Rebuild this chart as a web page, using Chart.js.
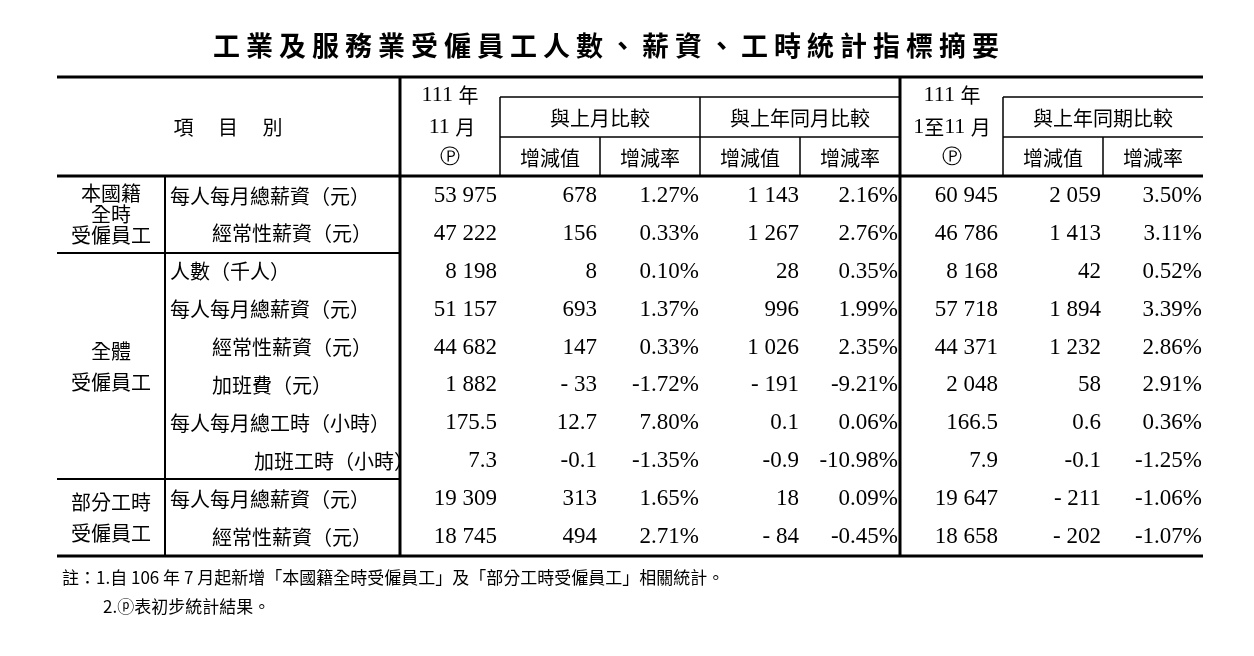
<!DOCTYPE html>
<html><head><meta charset="utf-8">
<script src="https://cdn.jsdelivr.net/npm/chart.js@4"></script>
<style>html,body{margin:0;padding:0;background:#fff}#c{display:block}</style>
</head><body>
<div style="width:1254px;height:656px"><canvas id="c"></canvas></div>
<script>
const title = "工業及服務業受僱員工人數、薪資、工時統計指標摘要";
const groups = [["本國籍","全時","受僱員工"],["全體","受僱員工"],["部分工時","受僱員工"]];
const groupRows = [2, 6, 2];
const items = ["每人每月總薪資（元）","經常性薪資（元）","人數（千人）","每人每月總薪資（元）","經常性薪資（元）","加班費（元）","每人每月總工時（小時）","加班工時（小時）","每人每月總薪資（元）","經常性薪資（元）"];
const itemIndent = [0,1,0,0,1,1,0,2,0,1];
const colMonth = ["53 975","47 222","8 198","51 157","44 682","1 882","175.5","7.3","19 309","18 745"];
const colMomVal = ["678","156","8","693","147","- 33","12.7","-0.1","313","494"];
const colMomRate = ["1.27%","0.33%","0.10%","1.37%","0.33%","-1.72%","7.80%","-1.35%","1.65%","2.71%"];
const colYoyVal = ["1 143","1 267","28","996","1 026","- 191","0.1","-0.9","18","- 84"];
const colYoyRate = ["2.16%","2.76%","0.35%","1.99%","2.35%","-9.21%","0.06%","-10.98%","0.09%","-0.45%"];
const colCum = ["60 945","46 786","8 168","57 718","44 371","2 048","166.5","7.9","19 647","18 658"];
const colCumVal = ["2 059","1 413","42","1 894","1 232","58","0.6","-0.1","- 211","- 202"];
const colCumRate = ["3.50%","3.11%","0.52%","3.39%","2.86%","2.91%","0.36%","-1.25%","-1.06%","-1.07%"];
const notes = ["註：1.自 106 年 7 月起新增「本國籍全時受僱員工」及「部分工時受僱員工」相關統計。","2.ⓟ表初步統計結果。"];

const CJK = '"Noto Sans CJK TC"', SER = '"Liberation Serif"';
const tablePlugin = {
  id:'tbl',
  afterDraw(chart){
    const c = chart.ctx; c.save();
    c.fillStyle='#000'; c.strokeStyle='#000';
    c.textBaseline='middle';
    c.font='bold 27px '+CJK; c.textAlign='center';
    c.letterSpacing='6px';
    c.fillText(title,609,46);
    c.letterSpacing='0px';
    const L=57,R=1203,T=77,H=176,B=556;
    const line=(x1,y1,x2,y2,w)=>{c.lineWidth=w;c.beginPath();c.moveTo(x1,y1);c.lineTo(x2,y2);c.stroke();};
    line(L,T,R,T,3); line(L,H,R,H,3); line(L,B,R,B,3);
    line(400,T,400,B,3); line(900,T,900,B,3);
    line(165,H,165,B,2);
    line(500,97,900,97,1.5); line(1003,97,R,97,1.5);
    line(500,137,900,137,1.5); line(1003,137,R,137,1.5);
    line(500,97,500,H,1.5); line(700,97,700,H,1.5); line(1003,97,1003,H,1.5);
    line(600,137,600,H,1.5); line(800,137,800,H,1.5); line(1103,137,1103,H,1.5);
    line(L,253,400,253,2); line(L,479,400,479,2);
    c.font='20px '+CJK;
    c.fillText('項　 目　 別',228,127);
    const mixed=(parts,x,y)=>{
      let w=0; parts.forEach(p=>{c.font=p[1];w+=c.measureText(p[0]).width;});
      let cx=x-w/2; c.textAlign='left';
      parts.forEach(p=>{c.font=p[1];c.fillText(p[0],cx,y);cx+=c.measureText(p[0]).width;});
      c.textAlign='center';
    };
    const sf='22px '+SER, cf='20px '+CJK;
    mixed([['111 ',sf],['年',cf]],450,95); mixed([['11 ',sf],['月',cf]],452,127);
    mixed([['111 ',sf],['年',cf]],952,95); mixed([['1',sf],['至',cf],['11 ',sf],['月',cf]],952,127);
    c.font='20px '+SER; c.fillText('Ⓟ',450,158); c.fillText('Ⓟ',952,158);
    c.font=cf;
    c.fillText('與上月比較',600,118); c.fillText('與上年同月比較',800,118); c.fillText('與上年同期比較',1103,118);
    [550,750,1053].forEach(x=>c.fillText('增減值',x,158));
    [650,850,1153].forEach(x=>c.fillText('增減率',x,158));
    const ys = chart.scales.y;
    let r0=0;
    groups.forEach((g,gi)=>{
      const yTop=ys.getPixelForValue(r0)-19, yBot=ys.getPixelForValue(r0+groupRows[gi]-1)+19;
      const mid=(yTop+yBot)/2, lh=g.length===3?21:31;
      g.forEach((t,i)=>{c.font=cf;c.fillText(t,111,mid+(i-(g.length-1)/2)*lh);});
      r0+=groupRows[gi];
    });
    const cols=[[colMonth,497],[colMomVal,597],[colMomRate,699],[colYoyVal,799],[colYoyRate,898],[colCum,998],[colCumVal,1101],[colCumRate,1202]];
    items.forEach((it,i)=>{
      const y=ys.getPixelForValue(i);
      c.font=cf; c.textAlign='left';
      c.fillText(it,170+itemIndent[i]*42,y);
      c.font='23px '+SER; c.textAlign='right';
      cols.forEach(([arr,x])=>c.fillText(arr[i],x,y));
      c.textAlign='center';
    });
    c.textAlign='left'; c.font='17px '+CJK;
    c.fillText(notes[0],62,578); c.fillText(notes[1],103,607);
    c.restore();
  }
};
new Chart(document.getElementById('c'),{
  type:'bar',
  data:{labels:items,datasets:[{data:items.map(()=>0)}]},
  options:{responsive:true,maintainAspectRatio:false,animation:false,
    layout:{padding:0},
    plugins:{legend:{display:false},tooltip:{enabled:false}},
    scales:{x:{display:false},y:{type:'linear',display:false,reverse:true,min:-5.17,max:12.14}}},
  plugins:[tablePlugin]
});
</script>
</body></html>
